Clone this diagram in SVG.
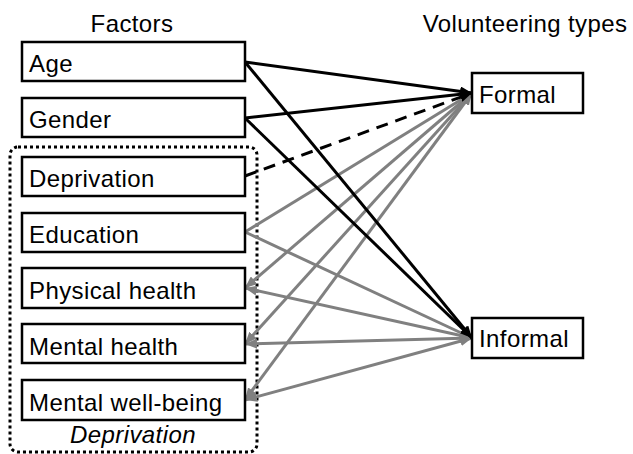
<svg xmlns="http://www.w3.org/2000/svg" width="633" height="454" viewBox="0 0 633 454">
<style>
text{font-family:"Liberation Sans",Arial,sans-serif;font-size:24px;letter-spacing:0.4px;fill:#000}
.box{fill:#fff;stroke:#000;stroke-width:2.5}
.k{stroke:#000;stroke-width:3;fill:none}
.g{stroke:#808080;stroke-width:3;fill:none}
</style>
<defs>
<marker id="ak" viewBox="0 0 12 10" refX="12" refY="5" markerWidth="12" markerHeight="10" markerUnits="userSpaceOnUse" orient="auto-start-reverse"><path d="M0,0L12,5L0,10z" fill="#000"/></marker>
<marker id="ag" viewBox="0 0 12 10" refX="12" refY="5" markerWidth="12" markerHeight="10" markerUnits="userSpaceOnUse" orient="auto-start-reverse"><path d="M0,0L12,5L0,10z" fill="#808080"/></marker>
</defs>
<text x="132" y="32" text-anchor="middle">Factors</text>
<text x="525" y="32" text-anchor="middle">Volunteering types</text>
<rect x="10" y="147" width="247" height="305" rx="8" fill="none" stroke="#000" stroke-width="3" stroke-dasharray="3,3"/>
<text x="133" y="443" text-anchor="middle" font-style="italic">Deprivation</text>
<g id="connectors">
<line class="g" x1="245" y1="232" x2="472" y2="93" marker-end="url(#ag)"/>
<line class="g" x1="245" y1="232" x2="472" y2="338" marker-end="url(#ag)"/>
<line class="g" x1="245" y1="288" x2="472" y2="93" marker-start="url(#ag)" marker-end="url(#ag)"/>
<line class="g" x1="245" y1="288" x2="472" y2="338" marker-start="url(#ag)" marker-end="url(#ag)"/>
<line class="g" x1="245" y1="344" x2="472" y2="93" marker-start="url(#ag)" marker-end="url(#ag)"/>
<line class="g" x1="245" y1="344" x2="472" y2="338" marker-start="url(#ag)" marker-end="url(#ag)"/>
<line class="g" x1="245" y1="400" x2="472" y2="93" marker-start="url(#ag)" marker-end="url(#ag)"/>
<line class="g" x1="245" y1="400" x2="472" y2="338" marker-start="url(#ag)" marker-end="url(#ag)"/>
<line class="k" x1="245" y1="176" x2="472" y2="93" stroke-dasharray="12,8" marker-end="url(#ak)"/>
<line class="k" x1="245" y1="62" x2="472" y2="93" marker-end="url(#ak)"/>
<line class="k" x1="245" y1="62" x2="472" y2="338" marker-end="url(#ak)"/>
<line class="k" x1="245" y1="118" x2="472" y2="93" marker-end="url(#ak)"/>
<line class="k" x1="245" y1="118" x2="472" y2="338" marker-end="url(#ak)"/>
</g>
<g id="age"><rect class="box" x="22" y="42" width="223" height="39"/><text x="29" y="72">Age</text></g>
<g id="gender"><rect class="box" x="22" y="98" width="223" height="39"/><text x="29" y="128">Gender</text></g>
<g id="deprivation"><rect class="box" x="22" y="157" width="223" height="39"/><text x="29" y="187">Deprivation</text></g>
<g id="education"><rect class="box" x="22" y="213" width="223" height="39"/><text x="29" y="243">Education</text></g>
<g id="physical-health"><rect class="box" x="22" y="268" width="223" height="40"/><text x="29" y="299">Physical health</text></g>
<g id="mental-health"><rect class="box" x="22" y="324" width="223" height="39"/><text x="29" y="355">Mental health</text></g>
<g id="mental-well-being"><rect class="box" x="22" y="380" width="223" height="40"/><text x="29" y="411">Mental well-being</text></g>
<g id="formal"><rect class="box" x="472" y="73" width="111" height="40"/><text x="479" y="103">Formal</text></g>
<g id="informal"><rect class="box" x="472" y="318" width="111" height="40"/><text x="479" y="347">Informal</text></g>
</svg>
